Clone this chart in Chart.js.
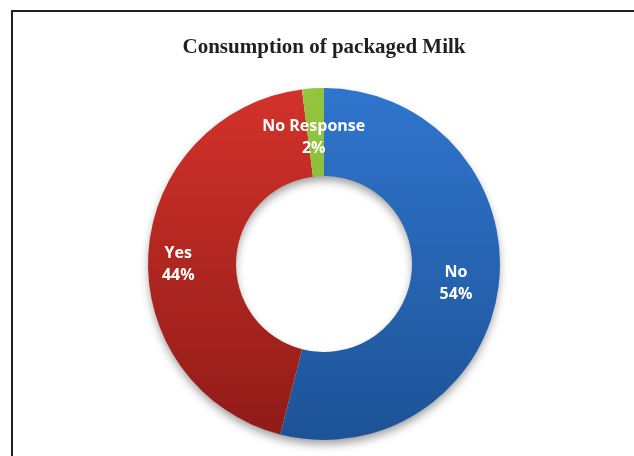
<!DOCTYPE html>
<html>
<head>
<meta charset="utf-8">
<script src="https://cdn.jsdelivr.net/npm/chart.js@4/dist/chart.umd.min.js"></script>
<style>
  html, body { margin: 0; padding: 0; background: #fff; overflow: hidden; }
  #wrap { position: relative; width: 634px; height: 456px; }
  #frame { position: absolute; left: 11px; top: 10px; width: 700px; height: 600px; border: 2.5px solid #231f20; box-sizing: border-box; }
  canvas { position: absolute; left: 0; top: 0; }
</style>
</head>
<body>
<div id="wrap">
  <div id="frame"></div>
  <canvas id="c" width="634" height="456"></canvas>
</div>
<script>
const titleText = 'Consumption of packaged Milk';
const categories = ['No', 'Yes', 'No Response'];
const percentValues = [54, 44, 2];
const topColors = ['#3075cd', '#d3322b', '#93c540'];
const bottomColors = ['#1d5397', '#8f1b17', '#7fae33'];

function gradientFor(ctx) {
  const chart = ctx.chart;
  const area = chart.chartArea;
  if (!area) return topColors[ctx.dataIndex];
  const g = chart.ctx.createLinearGradient(0, area.top, 0, area.bottom);
  g.addColorStop(0, topColors[ctx.dataIndex]);
  g.addColorStop(1, bottomColors[ctx.dataIndex]);
  return g;
}

const shadowPlugin = {
  id: 'ringShadow',
  beforeDatasetsDraw(chart) {
    const meta = chart.getDatasetMeta(0);
    const a = meta.data[0];
    if (!a) return;
    const ctx = chart.ctx;
    ctx.save();
    ctx.shadowColor = 'rgba(0,0,0,0.4)';
    ctx.shadowBlur = 10;
    ctx.shadowOffsetY = 5;
    ctx.fillStyle = '#fff';
    ctx.beginPath();
    ctx.arc(a.x, a.y, a.outerRadius - 1, 0, Math.PI * 2);
    ctx.arc(a.x, a.y, a.innerRadius + 1, 0, Math.PI * 2, true);
    ctx.fill();
    ctx.restore();
  }
};

const labelPlugin = {
  id: 'sliceLabels',
  afterDatasetsDraw(chart, args, opts) {
    const meta = chart.getDatasetMeta(0);
    const ctx = chart.ctx;
    const shifts = opts.shifts || [];
    ctx.save();
    ctx.fillStyle = '#ffffff';
    ctx.font = 'bold 16px "Open Sans", sans-serif';
    ctx.textAlign = 'center';
    ctx.textBaseline = 'middle';
    meta.data.forEach((arc, i) => {
      const mid = (arc.startAngle + arc.endAngle) / 2;
      const r = (arc.innerRadius + arc.outerRadius) / 2;
      const s = shifts[i] || [0, 0];
      const x = arc.x + Math.cos(mid) * r + s[0];
      const y = arc.y + Math.sin(mid) * r + s[1];
      ctx.fillText(categories[i], x, y - 10);
      ctx.fillText(percentValues[i] + '%', x, y + 12);
    });
    ctx.restore();
  }
};

new Chart(document.getElementById('c'), {
  type: 'doughnut',
  data: {
    labels: categories,
    datasets: [{
      data: percentValues,
      backgroundColor: gradientFor,
      borderWidth: 0,
      hoverOffset: 0
    }]
  },
  options: {
    responsive: false,
    animation: false,
    cutout: '50%',
    layout: { padding: { top: 0, bottom: 16, left: 14, right: 0 } },
    plugins: {
      legend: { display: false },
      tooltip: { enabled: false },
      title: {
        display: true,
        text: titleText,
        color: '#231f20',
        font: { family: '"Liberation Serif", "Times New Roman", serif', size: 21, weight: 'bold', lineHeight: 1.2 },
        padding: { top: 35, bottom: 27.8 }
      },
      sliceLabels: { shifts: [[1, 2], [-14, 8], [-2, 4]] }
    }
  },
  plugins: [shadowPlugin, labelPlugin]
});
</script>
</body>
</html>
